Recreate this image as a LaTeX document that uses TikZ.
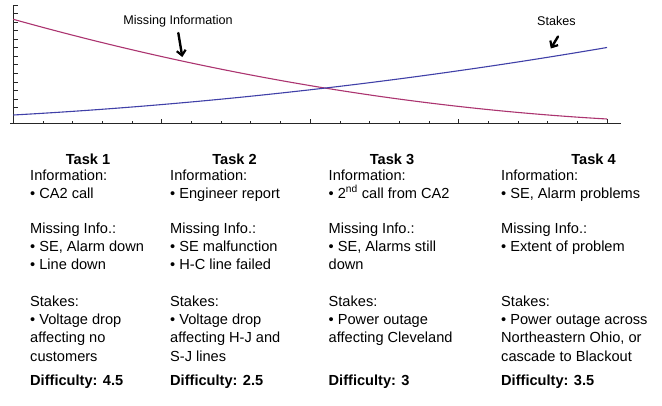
\documentclass[tikz,border=0pt]{standalone}
\usepackage{fontspec}
\setmainfont{Liberation Sans}
\usetikzlibrary{arrows.meta}
\definecolor{missc}{RGB}{172,52,112}
\definecolor{stakec}{RGB}{64,64,168}
\begin{document}
\begin{tikzpicture}[x=1pt,y=-1pt,
  body/.style={anchor=base west, inner sep=0pt, font=\fontsize{14.6}{18}\selectfont},
  head/.style={anchor=base, inner sep=0pt, font=\fontsize{14.6}{18}\selectfont\bfseries},
  diff/.style={anchor=base west, inner sep=0pt, font=\fontsize{14.6}{18}\selectfont\bfseries},
  lbl/.style={inner sep=0pt, font=\fontsize{12.6}{15}\selectfont},
  axisline/.style={draw=black!85, line width=1pt},
  tickmark/.style={draw=black!85, line width=0.9pt},
  missline/.style={draw=missc, line width=1.1pt},
  stakeline/.style={draw=stakec, line width=1.1pt},
  pointer/.style={draw=black, line width=2.4pt, line cap=round, -{Straight Barb[length=5pt,width=9pt,line width=2.2pt]}}]
\useasboundingbox (0,0) rectangle (662,405);
\fill[white] (0,0) rectangle (662,405);

% axes
\coordinate (o) at (13.3,123);
\coordinate (ytop) at (13.3,5);
\coordinate (xend) at (621,123);
\draw[axisline] (ytop) -- (o);
\draw[axisline] (10,123) -- (xend);
\foreach \k in {0,...,12}
  \draw[tickmark] (13.3,5+8.55*\k) -- ++(5,0);
\foreach \k in {1,...,20}
  \draw[tickmark] (13.3+29.7*\k,123) -- ++(0,-2);
\foreach \k in {5,10,15,20}
  \draw[tickmark] (13.3+29.7*\k,123) -- ++(0,-4.5);

% curves
\coordinate (m0) at (13.3,19.3);
\coordinate (m1) at (607,119);
\coordinate (s0) at (13.3,115);
\coordinate (s1) at (607,47.5);
\draw[missline] (m0) .. controls (211,74.4) and (409,107.7) .. (m1);
\draw[stakeline] (s0) .. controls (211,104) and (409,81.3) .. (s1);

% labels and arrows
\node[lbl] (lmiss) at (178,21.7) {Missing Information};
\node[lbl] (lstake) at (556.5,20.5) {Stakes};
\coordinate (amissS) at (178.3,33);
\coordinate (amissE) at (182.3,57);
\coordinate (astakeS) at (558,36.5);
\coordinate (astakeE) at (550.8,48.5);
\draw[pointer] (amissS) -- (amissE);
\draw[pointer] (astakeS) -- (astakeE);

% Task 1
\node[head] (t1h) at (88,164) {Task 1};
\node[body] (t1a) at (30,180) {Information:};
\node[body] (t1b) at (30,198) {• CA2 call};
\node[body] (t1c) at (30,233.5) {Missing Info.:};
\node[body] (t1d) at (30,251.7) {• SE, Alarm down};
\node[body] (t1e) at (30,269.9) {• Line down};
\node[body] (t1f) at (30,306.5) {Stakes:};
\node[body] (t1g) at (30,324.7) {• Voltage drop};
\node[body] (t1h2) at (30,342.9) {affecting no};
\node[body] (t1i) at (30,361.1) {customers};
\node[diff] (t1j) at (30,385) {Difficulty: 4.5};

% Task 2
\node[head] (t2h) at (234.5,164) {Task 2};
\node[body] (t2a) at (170,180) {Information:};
\node[body] (t2b) at (170,198) {• Engineer report};
\node[body] (t2c) at (170,233.5) {Missing Info.:};
\node[body] (t2d) at (170,251.7) {• SE malfunction};
\node[body] (t2e) at (170,269.9) {• H-C line failed};
\node[body] (t2f) at (170,306.5) {Stakes:};
\node[body] (t2g) at (170,324.7) {• Voltage drop};
\node[body] (t2h2) at (170,342.9) {affecting H-J and};
\node[body] (t2i) at (170,361.1) {S-J lines};
\node[diff] (t2j) at (170,385) {Difficulty: 2.5};

% Task 3
\node[head] (t3h) at (392,164) {Task 3};
\node[body] (t3a) at (328.5,180) {Information:};
\node[body] (t3b) at (328.5,198) {• 2\textsuperscript{nd} call from CA2};
\node[body] (t3c) at (328.5,233.5) {Missing Info.:};
\node[body] (t3d) at (328.5,251.7) {• SE, Alarms still};
\node[body] (t3e) at (328.5,269.9) {down};
\node[body] (t3f) at (328.5,306.5) {Stakes:};
\node[body] (t3g) at (328.5,324.7) {• Power outage};
\node[body] (t3h2) at (328.5,342.9) {affecting Cleveland};
\node[diff] (t3j) at (328.5,385) {Difficulty: 3};

% Task 4
\node[head] (t4h) at (593.5,164) {Task 4};
\node[body] (t4a) at (501,180) {Information:};
\node[body] (t4b) at (501,198) {• SE, Alarm problems};
\node[body] (t4c) at (501,233.5) {Missing Info.:};
\node[body] (t4d) at (501,251.7) {• Extent of problem};
\node[body] (t4f) at (501,306.5) {Stakes:};
\node[body] (t4g) at (501,324.7) {• Power outage across};
\node[body] (t4h2) at (501,342.9) {Northeastern Ohio, or};
\node[body] (t4i) at (501,361.1) {cascade to Blackout};
\node[diff] (t4j) at (501,385) {Difficulty: 3.5};
\end{tikzpicture}
\end{document}
